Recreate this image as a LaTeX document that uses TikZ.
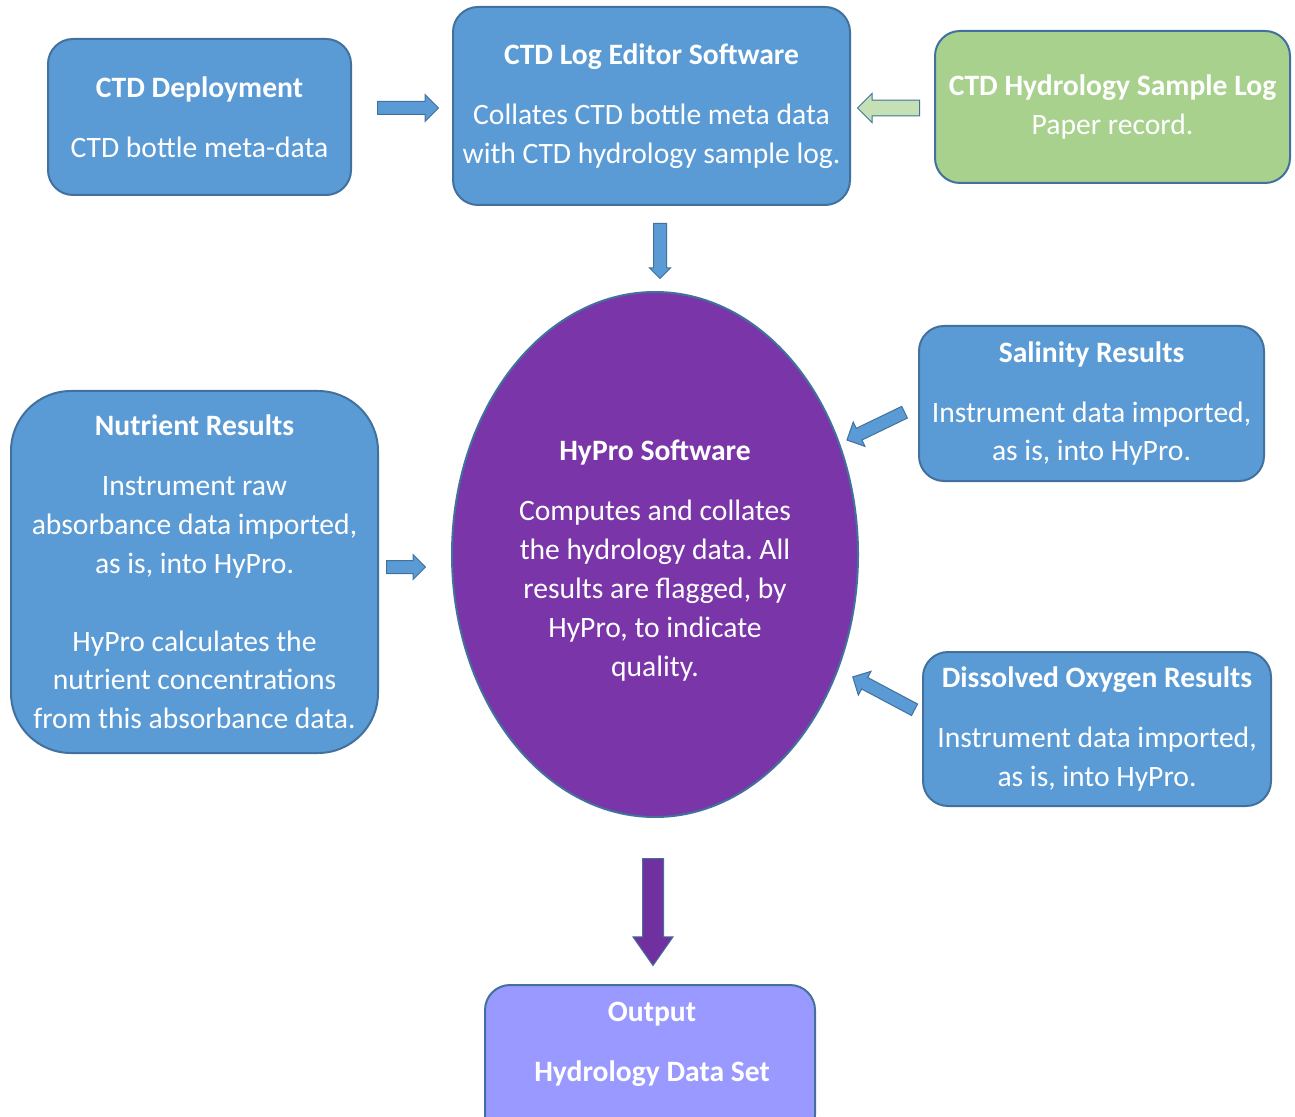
\documentclass[tikz,border=0pt]{standalone}
\usepackage{fontspec}
\setmainfont{Carlito}
\usetikzlibrary{shapes.geometric,shapes.arrows}
\frenchspacing

\definecolor{boxblue}{HTML}{5B9BD5}
\definecolor{edgeblue}{HTML}{41719C}
\definecolor{loggreen}{HTML}{A9D18E}
\definecolor{paleGreen}{HTML}{C5E0B4}
\definecolor{hyproPurple}{HTML}{7A36A8}
\definecolor{darkPurple}{HTML}{7030A0}
\definecolor{outLilac}{HTML}{9999FF}

\begin{document}
\begin{tikzpicture}[x=0.5pt, y=-0.5pt,
    every node/.style={font=\fontsize{14.8}{19.4}\selectfont, text=white},
    box/.style={draw=edgeblue, line width=1pt, fill=boxblue, rounded corners=12.5pt,
        align=center, inner sep=0pt},
    blockarrow/.style={single arrow, draw=edgeblue, line width=0.5pt, fill=boxblue,
        inner sep=0pt, minimum width=0pt, single arrow head indent=0pt, anchor=tail}]
    \useasboundingbox (0,0) rectangle (1295,1117);

    % Top row
    \node[box, minimum width=151.5pt, minimum height=78pt] (depl) at (199.5,117)
        {\textbf{CTD Deployment}\\[10.6pt] CTD bottle meta-data};
    \node[box, minimum width=198.5pt, minimum height=99pt] (editor) at (651.5,106)
        {\textbf{CTD Log Editor Software}\\[10.6pt] Collates CTD bottle meta data\\ with CTD hydrology sample log.};
    \node[box, fill=loggreen, minimum width=177.5pt, minimum height=76pt] (paperlog) at (1112.5,107)
        {\textbf{CTD Hydrology Sample Log}\\ Paper record.};

    % HyPro in the middle
    \node[ellipse, draw=edgeblue, line width=1pt, fill=hyproPurple, align=center,
        minimum width=203pt, minimum height=262.5pt, inner sep=0pt] (hypro) at (655,554.5) {};
    \node[align=center] (hyprotxt) at (655,560.5)
        {\textbf{HyPro Software}\\[10.6pt] Computes and collates\\ the hydrology data. All\\
         results are flagged, by\\ HyPro, to indicate\\ quality.};

    % Instrument results
    \node[box, rounded corners=30pt, minimum width=183.5pt, minimum height=181pt] (nutr) at (194.5,572)
        {\textbf{Nutrient Results}\\[10.6pt] Instrument raw\\ absorbance data imported,\\ as is, into HyPro.\\[19.4pt]
         HyPro calculates the\\ nutrient concentrations\\ from this absorbance data.};
    \node[box, minimum width=172.5pt, minimum height=77.5pt] (salin) at (1091.5,403.5)
        {\textbf{Salinity Results}\\[10.6pt] Instrument data imported,\\ as is, into HyPro.};
    \node[box, minimum width=174pt, minimum height=77pt] (oxy) at (1097,729)
        {\textbf{Dissolved Oxygen Results}\\[10.6pt] Instrument data imported,\\ as is, into HyPro.};

    % Output box runs off the bottom edge
    \node[box, fill=outLilac, minimum width=165pt, minimum height=77.5pt] (output) at (650,1062.5) {};
    \node[align=center] (outtxt) at (652,1044)
        {\textbf{Output}\\[10.6pt] \textbf{Hydrology Data Set}};

    % Block arrows, placed by their tails
    \node[blockarrow, minimum height=30.5pt, inner ysep=3pt, single arrow head extend=3.5pt] (a1) at (377,108) {};
    \node[blockarrow, fill=paleGreen, minimum height=31pt, inner ysep=3.7pt, single arrow head extend=3.3pt,
        rotate=180] (a2) at (920,108) {};
    \node[blockarrow, minimum height=27.5pt, inner ysep=3pt, single arrow head extend=2pt,
        rotate=-90] (a3) at (660,223) {};
    \node[blockarrow, minimum height=32pt, inner ysep=3pt, single arrow head extend=3.5pt,
        rotate=205.8] (a4) at (905,412) {};
    \node[blockarrow, minimum height=35pt, inner ysep=3pt, single arrow head extend=3.5pt,
        rotate=152] (a5) at (915,710) {};
    \node[blockarrow, minimum height=19.5pt, inner ysep=3pt, single arrow head extend=3pt] (a6) at (386,567) {};
    \node[blockarrow, fill=darkPurple, minimum height=53.5pt, inner ysep=5pt, single arrow head extend=4.75pt,
        single arrow tip angle=70, rotate=-90] (a7) at (653,858) {};
\end{tikzpicture}
\end{document}
